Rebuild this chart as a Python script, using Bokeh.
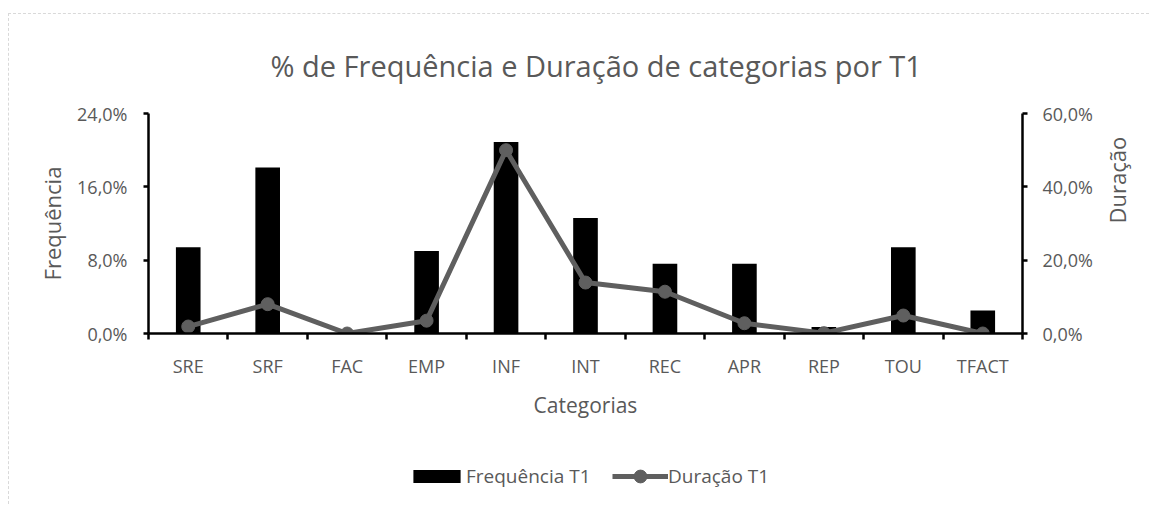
import math
import numpy as np
from bokeh.plotting import figure
from bokeh.layouts import column
from bokeh.models import (Range1d, LinearAxis, FixedTicker, Legend, LegendItem,
                          ColumnDataSource)
from bokeh.embed import file_html
from bokeh.resources import INLINE

# ---- data ----
categories = ["SRE", "SRF", "FAC", "EMP", "INF", "INT", "REC", "APR", "REP", "TOU", "TFACT"]
freq_t1 = [9.4, 18.1, 0.0, 9.0, 20.9, 12.6, 7.6, 7.6, 0.7, 9.4, 2.5]
dur_t1 = [1.9, 8.0, 0.0, 3.5, 50.0, 13.9, 11.4, 2.8, 0.1, 4.9, 0.0]
left_ticks = [0, 8, 16, 24]
left_labels = ["0,0%", "8,0%", "16,0%", "24,0%"]
right_ticks = [0, 20, 40, 60]
right_labels = ["0,0%", "20,0%", "40,0%", "60,0%"]
series_names = ["Frequência T1", "Duração T1"]

TXT = "#595959"
FONT = "Open Sans"
LINEC = "#5f5f5f"

n = len(categories)
centers = list(np.arange(n) + 0.5)
bounds = list(np.arange(n + 1).astype(float))

src = ColumnDataSource(dict(x=centers, cat=categories, freq=freq_t1, dur=dur_t1))

p = figure(width=1140, height=426, x_range=Range1d(0, n), y_range=Range1d(0, 24),
           output_backend="svg", toolbar_location=None,
           min_border_left=139, min_border_right=126, min_border_top=98, min_border_bottom=107)
p.outline_line_color = None
p.xgrid.visible = False
p.ygrid.visible = False

p.title.text = "% de Frequência e Duração de categorias por T1"
p.title.align = "left"
p.title.offset = 122
p.title.text_font = FONT
p.title.text_font_size = "29px"
p.title.text_font_style = "normal"
p.title.text_color = TXT
p.title.standoff = 58

p.extra_y_ranges = {"dur": Range1d(0, 60)}

bars = p.vbar(x="x", top="freq", width=0.31, source=src, fill_color="black", line_color=None)
line = p.line(x="x", y="dur", source=src, line_color=LINEC, line_width=5, y_range_name="dur")
dots = p.scatter(x="x", y="dur", source=src, size=13, fill_color=LINEC, line_color=LINEC,
                 y_range_name="dur")

def style_axis(ax):
    ax.axis_line_color = "black"
    ax.axis_line_width = 2.5
    ax.major_tick_line_color = "black"
    ax.major_tick_line_width = 2.5
    ax.major_tick_out = 5
    ax.major_tick_in = 0
    ax.minor_tick_line_color = None
    ax.major_label_text_font = FONT
    ax.major_label_text_font_size = "18px"
    ax.major_label_text_color = TXT
    ax.axis_label_text_font = FONT
    ax.axis_label_text_font_size = "22px"
    ax.axis_label_text_font_style = "normal"
    ax.axis_label_text_color = TXT

xa = p.xaxis[0]
style_axis(xa)
xa.ticker = FixedTicker(ticks=centers, minor_ticks=bounds)
xa.major_label_overrides = {c: lab for c, lab in zip(centers, categories)}
xa.major_tick_out = 0
xa.major_tick_line_color = None
xa.minor_tick_line_color = "black"
xa.minor_tick_line_width = 2.5
xa.minor_tick_out = 6
xa.minor_tick_in = 0
xa.major_label_standoff = 14
xa.axis_label = "Categorias"
xa.axis_label_text_font_size = "21px"
xa.axis_label_standoff = 10

ya = p.yaxis[0]
style_axis(ya)
ya.ticker = FixedTicker(ticks=left_ticks)
ya.major_label_overrides = {t: l for t, l in zip(left_ticks, left_labels)}
ya.major_label_standoff = 16
ya.axis_label = "Frequência"
ya.axis_label_standoff = 7

ra = LinearAxis(y_range_name="dur")
style_axis(ra)
ra.ticker = FixedTicker(ticks=right_ticks)
ra.major_label_overrides = {t: l for t, l in zip(right_ticks, right_labels)}
ra.major_label_standoff = 15
ra.axis_label = "Duração"
ra.axis_label_standoff = 21
ra.axis_label_orientation = math.pi / 2
p.add_layout(ra, "right")

# ---- legend strip (separate figure so the legend is not clipped) ----
lg = figure(width=1140, height=64, x_range=Range1d(0, 1), y_range=Range1d(0, 1),
            output_backend="svg", toolbar_location=None,
            x_axis_location=None, y_axis_location=None,
            min_border_left=0, min_border_right=0, min_border_top=0, min_border_bottom=0)
lg.outline_line_color = None
lg.xgrid.visible = False
lg.ygrid.visible = False
lb = lg.vbar(x="x", top="freq", width=0.31, source=src, fill_color="black", line_color=None,
             visible=False)
ll = lg.line(x="x", y="dur", source=src, line_color=LINEC, line_width=5, visible=False)
ls = lg.scatter(x="x", y="dur", source=src, size=13, fill_color=LINEC, line_color=LINEC,
                visible=False)

common = dict(orientation="horizontal", border_line_color=None, background_fill_alpha=0,
              label_standoff=0, padding=0, margin=0, inactive_fill_alpha=0,
              label_text_font=FONT, label_text_font_size="19px", label_text_color=TXT)

legend1 = Legend(items=[LegendItem(label=series_names[0], renderers=[lb])],
                 location=(259, 15), glyph_width=59, glyph_height=16, **common)
legend2 = Legend(items=[LegendItem(label=series_names[1], renderers=[ll, ls])],
                 location=(464, 12), glyph_width=56, glyph_height=32, **common)
lg.add_layout(legend1, "center")
lg.add_layout(legend2, "center")

layout = column(p, lg, spacing=0)
layout.styles = {"margin-left": "8px", "margin-top": "13px",
                 "border-top": "1px dashed #d9d9d9", "border-left": "1px dashed #d9d9d9"}

open("out.html", "w").write(file_html(layout, INLINE))
